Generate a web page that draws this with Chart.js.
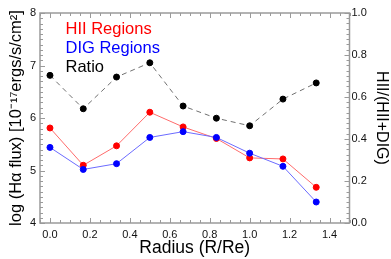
<!DOCTYPE html>
<html>
<head>
<meta charset="utf-8">
<style>
  html, body { margin: 0; padding: 0; background: #fff; }
  #wrap { width: 391px; height: 259px; }
</style>
<script src="https://cdn.jsdelivr.net/npm/chart.js@4/dist/chart.umd.min.js"></script>
</head>
<body>
<div id="wrap"><canvas id="fluxChart" width="391" height="259"></canvas></div>
<script>
// radius bins (R/Re)
var radius = [0, 1/6, 2/6, 3/6, 4/6, 5/6, 1, 7/6, 8/6];
// log Halpha flux
var hiiFlux = [5.81, 5.10, 5.47, 6.11, 5.83, 5.61, 5.24, 5.22, 4.68];
var digFlux = [5.44, 5.02, 5.13, 5.63, 5.74, 5.63, 5.33, 5.08, 4.40];
// HII/(HII+DIG)
var ratio = [0.703, 0.544, 0.695, 0.763, 0.557, 0.499, 0.463, 0.590, 0.667];

var xTicks = [0, 0.2, 0.4, 0.6, 0.8, 1.0, 1.2, 1.4];
var yTicks = [4, 5, 6, 7, 8];
var ratioTicks = [0, 0.2, 0.4, 0.6, 0.8, 1.0];

var legendNames = ['HII Regions', 'DIG Regions', 'Ratio'];
var legendColors = ['#ff0000', '#0000ff', '#000000'];

function pts(ys) {
    return radius.map(function (r, i) { return { x: r, y: ys[i] }; });
}

function fixTicks(list) {
    return function (scale) {
        scale.ticks = list.map(function (v) { return { value: v }; });
    };
}

var font = "'Liberation Sans', Arial, sans-serif";

// IDL style box with inward ticks, plus text legend
var boxPlugin = {
    id: 'boxPlugin',
    beforeDatasetsDraw: function (chart) {
        var ctx = chart.ctx;
        var a = chart.chartArea;
        var sx = chart.scales.x, sy = chart.scales.y, sr = chart.scales.y2;
        ctx.save();
        ctx.strokeStyle = '#9a9a9a';
        ctx.lineWidth = 1.5;
        ctx.strokeRect(a.left, a.top, a.right - a.left, a.bottom - a.top);
        ctx.lineWidth = 1;
        ctx.beginPath();
        var v, p, len;
        for (v = -0.05; v <= 1.5001; v += 0.05) {
            p = Math.round(sx.getPixelForValue(v)) + 0.5;
            len = Math.abs(v * 5 - Math.round(v * 5)) < 0.001 ? 5 : 3;
            ctx.moveTo(p, a.bottom); ctx.lineTo(p, a.bottom - len);
            ctx.moveTo(p, a.top); ctx.lineTo(p, a.top + len);
        }
        for (v = 4; v <= 8.001; v += 0.1) {
            p = Math.round(sy.getPixelForValue(v)) + 0.5;
            len = Math.abs(v - Math.round(v)) < 0.001 ? 5 : 3;
            ctx.moveTo(a.left, p); ctx.lineTo(a.left + len, p);
        }
        for (v = 0; v <= 1.0001; v += 0.025) {
            p = Math.round(sr.getPixelForValue(v)) + 0.5;
            len = Math.abs(v * 5 - Math.round(v * 5)) < 0.001 ? 5 : 3;
            ctx.moveTo(a.right, p); ctx.lineTo(a.right - len, p);
        }
        ctx.stroke();
        ctx.restore();
    },
    afterDraw: function (chart) {
        var ctx = chart.ctx;
        ctx.save();
        ctx.font = '16.5px ' + font;
        ctx.textBaseline = 'alphabetic';
        legendNames.forEach(function (name, i) {
            ctx.fillStyle = legendColors[i];
            ctx.fillText(name, 65.5, 33.5 + i * 19.3);
        });
        ctx.restore();
    }
};

var ctx = document.getElementById('fluxChart').getContext('2d');
var fluxChart = new Chart(ctx, {
    type: 'line',
    data: {
        datasets: [{
            label: 'HII Regions',
            data: pts(hiiFlux),
            yAxisID: 'y',
            borderColor: '#ff6b6b',
            borderWidth: 1,
            pointBackgroundColor: '#ff0000',
            pointBorderColor: '#ff0000',
            pointRadius: 3,
            order: 1
        }, {
            label: 'DIG Regions',
            data: pts(digFlux),
            yAxisID: 'y',
            borderColor: '#6b6bff',
            borderWidth: 1,
            pointBackgroundColor: '#0000ff',
            pointBorderColor: '#0000ff',
            pointRadius: 3,
            order: 0
        }, {
            label: 'Ratio',
            data: pts(ratio),
            yAxisID: 'y2',
            borderColor: '#707070',
            borderWidth: 1,
            borderDash: [5, 4],
            pointBackgroundColor: '#000000',
            pointBorderColor: '#000000',
            pointRadius: 3,
            order: 2
        }]
    },
    options: {
        responsive: false,
        animation: false,
        devicePixelRatio: 1,
        layout: { padding: { top: 13, right: 0, left: 0, bottom: 0 } },
        plugins: { legend: { display: false }, tooltip: { enabled: false } },
        scales: {
            x: {
                type: 'linear',
                min: -0.05,
                max: 1.5,
                afterBuildTicks: fixTicks(xTicks),
                afterFit: function (s) { s.height = 36; },
                grid: { display: false, drawTicks: false },
                border: { display: false },
                ticks: {
                    padding: 5,
                    color: '#111',
                    font: { family: font, size: 11 },
                    callback: function (v) { return v.toFixed(1); }
                },
                title: {
                    display: true,
                    text: 'Radius (R/Re)',
                    color: '#000',
                    font: { family: font, size: 17.5 },
                    padding: { top: 0, bottom: 0 }
                }
            },
            y: {
                type: 'linear',
                position: 'left',
                min: 4,
                max: 8,
                afterBuildTicks: fixTicks(yTicks),
                afterFit: function (s) { s.width = 40; },
                grid: { display: false, drawTicks: false },
                border: { display: false },
                ticks: {
                    padding: 4,
                    color: '#111',
                    font: { family: font, size: 11 },
                    callback: function (v) { return String(v); }
                },
                title: {
                    display: true,
                    text: 'log (H\u03b1 flux) [10\u207b\u00b9\u2077ergs/s/cm\u00b2]',
                    color: '#000',
                    font: { family: font, size: 16.5 },
                    padding: { top: 7, bottom: 0 }
                }
            },
            y2: {
                type: 'linear',
                position: 'right',
                min: 0,
                max: 1,
                afterBuildTicks: fixTicks(ratioTicks),
                afterFit: function (s) { s.width = 41.5; },
                grid: { display: false, drawTicks: false },
                border: { display: false },
                ticks: {
                    padding: 2,
                    color: '#111',
                    font: { family: font, size: 11 },
                    callback: function (v) { return v.toFixed(1); }
                },
                title: {
                    display: true,
                    text: 'HII/(HII+DIG)',
                    color: '#000',
                    font: { family: font, size: 16 },
                    padding: { top: 0, bottom: 0 }
                }
            }
        }
    },
    plugins: [boxPlugin]
});
</script>
</body>
</html>
